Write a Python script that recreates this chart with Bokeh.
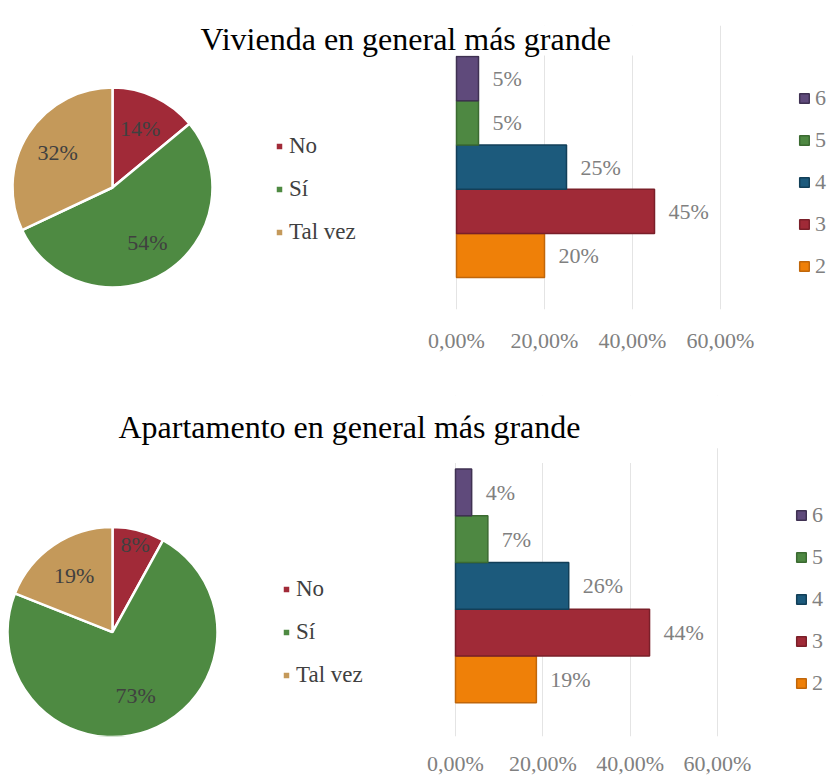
import math
from bokeh.plotting import figure
from bokeh.models import (Range1d, LinearAxis, FixedTicker, Grid, Legend, LegendItem,
                          Label, BoxAnnotation, ColumnDataSource)
from bokeh.layouts import column
from bokeh.embed import file_html
from bokeh.resources import INLINE
from bokeh.core.properties import value

FONT = "Liberation Serif"

# ---------------- data ----------------
title_top = "Vivienda en general más grande"
title_bottom = "Apartamento en general más grande"

pie_labels = ["No", "Sí", "Tal vez"]
pie_colors = ["#a12a38", "#4e8a42", "#c4995a"]
pie_top_values = [14, 54, 32]
pie_bottom_values = [8, 73, 19]

bar_categories = ["2", "3", "4", "5", "6"]
bar_colors = ["#ef8008", "#a02a37", "#1c5a7c", "#4e8842", "#5f4a7b"]
bar_line_colors = ["#c0660a", "#7a1f29", "#123f58", "#3b6a31", "#3f3152"]
bar_top_values = [20, 45, 25, 5, 5]
bar_bottom_values = [18.52, 44.44, 25.93, 7.41, 3.70]

tick_values = [0, 20, 40, 60]
tick_labels = ["0,00%", "20,00%", "40,00%", "60,00%"]

# ---------------- layout geometry (page pixels) ----------------
TOP = dict(canvas_top=0, canvas_bottom=385, frame_top=25, frame_bottom=309,
           x0=456, x60=720, bar_unit=44.2, bar2_center=255,
           pie_cx=112, pie_cy=187, pie_r=100,
           title_x=200, title_base=38,
           boxes=[(430, 655, 20, 55)],
           pie_leg_x=274, pie_leg_last=232, pie_leg_step=43,
           bar_leg_x=798, bar_leg_last=266, bar_leg_step=42,
           standoff=18)
BOTTOM = dict(canvas_top=385, canvas_bottom=778, frame_top=395, frame_bottom=738,
              x0=455, x60=717, bar_unit=47, bar2_center=680.5,
              pie_cx=112, pie_cy=633, pie_r=105,
              title_x=118, title_base=427,
              boxes=[(100, 740, 390, 448), (430, 655, 440, 463)],
              pie_leg_x=281, pie_leg_last=677, pie_leg_step=43,
              bar_leg_x=795, bar_leg_last=685, bar_leg_step=42,
              standoff=14)

LEFT, RIGHT = 0, 829
LH = 30  # legend item height


def make_row(title, pie_vals, bar_vals, g):
    ft, fb = g["frame_top"], g["frame_bottom"]
    p = figure(width=RIGHT - LEFT, height=g["canvas_bottom"] - g["canvas_top"],
               x_range=Range1d(LEFT, RIGHT), y_range=Range1d(fb, ft),
               x_axis_type=None, y_axis_type=None,
               toolbar_location=None, output_backend="svg",
               min_border_left=0, min_border_right=0,
               min_border_top=ft - g["canvas_top"],
               min_border_bottom=g["canvas_bottom"] - fb)
    p.outline_line_color = None
    p.background_fill_color = "white"
    p.border_fill_color = "white"

    ppp = (g["x60"] - g["x0"]) / 60.0
    p.extra_x_ranges = {"pct": Range1d((LEFT - g["x0"]) / ppp, (RIGHT - g["x0"]) / ppp)}
    u, c2 = g["bar_unit"], g["bar2_center"]
    p.extra_y_ranges = {"cat": Range1d(-(fb - c2) / u, (c2 - ft) / u)}

    # axis + grid for bars
    ticker = FixedTicker(ticks=tick_values)
    ax = LinearAxis(x_range_name="pct", ticker=ticker,
                    major_label_overrides={t: l for t, l in zip(tick_values, tick_labels)})
    ax.axis_line_color = None
    ax.major_tick_line_color = None
    ax.minor_tick_line_color = None
    ax.major_tick_out = 0
    ax.major_tick_in = 0
    ax.major_label_standoff = g["standoff"]
    ax.major_label_text_font = FONT
    ax.major_label_text_font_size = "22px"
    ax.major_label_text_color = "#808080"
    p.add_layout(ax, "below")
    p.add_layout(Grid(dimension=0, ticker=ticker, x_range_name="pct",
                      grid_line_color="#e4e4e4", grid_line_width=1))

    # bars
    src = ColumnDataSource(dict(
        y=list(range(len(bar_categories))), cat=bar_categories, val=bar_vals,
        color=bar_colors, line=bar_line_colors,
        lab=["%d%%" % int(round(v)) for v in bar_vals]))
    br = p.hbar(y="y", left=0, right="val", height=1.0, fill_color="color",
                line_color="line", line_width=1.5, source=src,
                x_range_name="pct", y_range_name="cat")
    p.text(x="val", y="y", text="lab", x_offset=14, text_align="left",
           text_baseline="middle", text_font=value(FONT), text_font_size="22px",
           text_color="#808080", source=src, x_range_name="pct", y_range_name="cat")

    # pie
    total = float(sum(pie_vals))
    starts, ends, lx, ly = [], [], [], []
    cum = 0.0
    for v in pie_vals:
        a0 = cum / total
        a1 = (cum + v) / total
        starts.append(math.pi / 2 - 2 * math.pi * a0)
        ends.append(math.pi / 2 - 2 * math.pi * a1)
        mid = 2 * math.pi * (a0 + a1) / 2
        f = 0.65 if v / total >= 0.10 else 0.87
        d = f * g["pie_r"]
        lx.append(g["pie_cx"] + d * math.sin(mid))
        ly.append(g["pie_cy"] - d * math.cos(mid))
        cum += v
    psrc = ColumnDataSource(dict(start=starts, end=ends, color=pie_colors,
                                 lx=lx, ly=ly,
                                 lab=["%d%%" % v for v in pie_vals]))
    wr = p.wedge(x=g["pie_cx"], y=g["pie_cy"], radius=g["pie_r"],
                 start_angle="start", end_angle="end", direction="clock",
                 fill_color="color", line_color="white", line_width=2.5, source=psrc)
    p.text(x="lx", y="ly", text="lab", text_align="center", text_baseline="middle",
           text_font=value(FONT), text_font_size="22px", text_color="#404040", source=psrc)

    # legends
    sp = int(round(g["pie_leg_step"] - LH))
    pleg = Legend(items=[LegendItem(label=value(l), renderers=[wr], index=i)
                         for i, l in enumerate(pie_labels)],
                  location=(g["pie_leg_x"] - LEFT, fb - (g["pie_leg_last"] + LH / 2)),
                  glyph_width=10, glyph_height=10, label_standoff=5, spacing=sp,
                  label_height=LH, padding=0, margin=0, border_line_color=None,
                  background_fill_alpha=0, label_text_font=FONT,
                  label_text_font_size="23px", label_text_color="#404040")
    p.add_layout(pleg)

    sp = int(round(g["bar_leg_step"] - LH))
    bleg = Legend(items=[LegendItem(label=value(bar_categories[i]), renderers=[br], index=i)
                         for i in reversed(range(len(bar_categories)))],
                  location=(g["bar_leg_x"] - LEFT, fb - (g["bar_leg_last"] + LH / 2)),
                  glyph_width=12, glyph_height=12, label_standoff=5, spacing=sp,
                  label_height=LH, padding=0, margin=0, border_line_color=None,
                  background_fill_alpha=0, label_text_font=FONT,
                  label_text_font_size="22px", label_text_color="#808080")
    p.add_layout(bleg)

    # title (white box hides grid lines behind it, as in the original)
    for (bl, brt, bt, bb) in g["boxes"]:
        p.add_layout(BoxAnnotation(left=bl, right=brt, top=bt, bottom=bb,
                                   fill_color="white", fill_alpha=1.0, line_alpha=0))
    p.add_layout(Label(x=g["title_x"], y=g["title_base"], text=title,
                       text_font=FONT, text_font_size="32px", text_color="black",
                       text_align="left", text_baseline="alphabetic"))
    return p


p1 = make_row(title_top, pie_top_values, bar_top_values, TOP)
p2 = make_row(title_bottom, pie_bottom_values, bar_bottom_values, BOTTOM)
layout = column(p1, p2, spacing=0)

open("out.html", "w").write(file_html(layout, INLINE))
